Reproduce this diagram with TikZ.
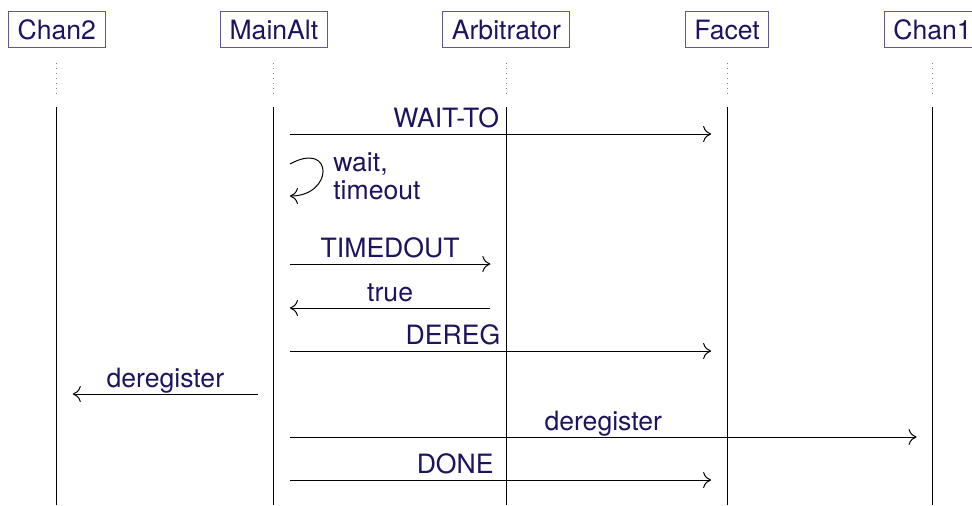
\documentclass[tikz,border=0pt]{standalone}
\usepackage{fontspec}
\setmainfont{TeX Gyre Heros}
\usepackage{tikz}
\usetikzlibrary{positioning, arrows.meta}
\tikzset{>={Computer Modern Rightarrow[length=4pt,width=8pt]}}
\definecolor{seqtext}{RGB}{28,20,96}
\definecolor{seqbox}{RGB}{96,88,150}
\newcommand{\seqfont}{\fontsize{13.3}{14}\selectfont}

\begin{document}
\begin{tikzpicture}
    [actor/.style={draw=seqbox, text=seqtext, font=\seqfont, inner xsep=4.5pt,
       inner ysep=3pt, text height=11pt, text depth=1pt},
      lifedots/.style={gray, line width=0.5pt, dash pattern=on 0.5pt off 2pt},
      lifeline/.style={line width=0.5pt},
      msg/.style={->, line width=0.5pt, shorten <=8pt, shorten >=8pt},
      lbl/.style={above, text=seqtext, font=\seqfont, inner xsep=0pt,
       inner ysep=3pt, text depth=0pt},
      note/.style={text=seqtext, font=\seqfont, align=left, inner sep=0pt},
      node distance=57.4pt]

    \useasboundingbox (0,0) rectangle (486pt,-252.5pt);

    % actors
    \node[actor] (chan2) at (28.4pt,-14.5pt) {Chan2};
    \node[actor, right=of chan2] (mainalt) {MainAlt};
    \node[actor, right=of mainalt] (arb) {Arbitrator};
    \node[actor, right=of arb] (facet) {Facet};
    \node[actor, right=of facet] (chan1) {Chan1};

    % lifelines
    \coordinate (bottom) at (0,-252.5pt);
    \foreach \a in {chan2, mainalt, arb, facet, chan1} {
      \draw[lifedots] ([yshift=-8pt]\a.south) -- ([yshift=-24pt]\a.south);
      \draw[lifeline] ([yshift=-30pt]\a.south) -- (\a |- bottom);
    }

    % message rows
    \coordinate (r1) at (0,-67pt);
    \coordinate (r2) at (0,-82pt);
    \coordinate (r3) at (0,-98pt);
    \coordinate (w) at (0,-88pt);
    \coordinate (r4) at (0,-132pt);
    \coordinate (r5) at (0,-154pt);
    \coordinate (r6) at (0,-175.5pt);
    \coordinate (r7) at (0,-197pt);
    \coordinate (r8) at (0,-218.5pt);
    \coordinate (r9) at (0,-240pt);

    \draw[msg] (mainalt |- r1) -- node[lbl, pos=.38] {WAIT-TO} (facet |- r1);
    \draw[->, line width=0.5pt] ([xshift=8pt]mainalt |- r2)
      .. controls +(22pt,12pt) and +(22pt,0pt) .. ([xshift=8pt]mainalt |- r3);
    \node[note, anchor=west] (waitto) at ([xshift=29.5pt]mainalt |- w)
      {wait,\\timeout};
    \draw[msg] (mainalt |- r4) -- node[lbl] {TIMEDOUT} (arb |- r4);
    \draw[msg] (arb |- r5) -- node[lbl] {true} (mainalt |- r5);
    \draw[msg] (mainalt |- r6) -- node[lbl, pos=.395] {DEREG} (facet |- r6);
    \draw[msg] (mainalt |- r7) -- node[lbl] {deregister} (chan2 |- r7);
    \draw[msg] (mainalt |- r8) -- node[lbl] {deregister} (chan1 |- r8);
    \draw[msg] (mainalt |- r9) -- node[lbl, pos=.4] {DONE} (facet |- r9);
  \end{tikzpicture}
\end{document}
